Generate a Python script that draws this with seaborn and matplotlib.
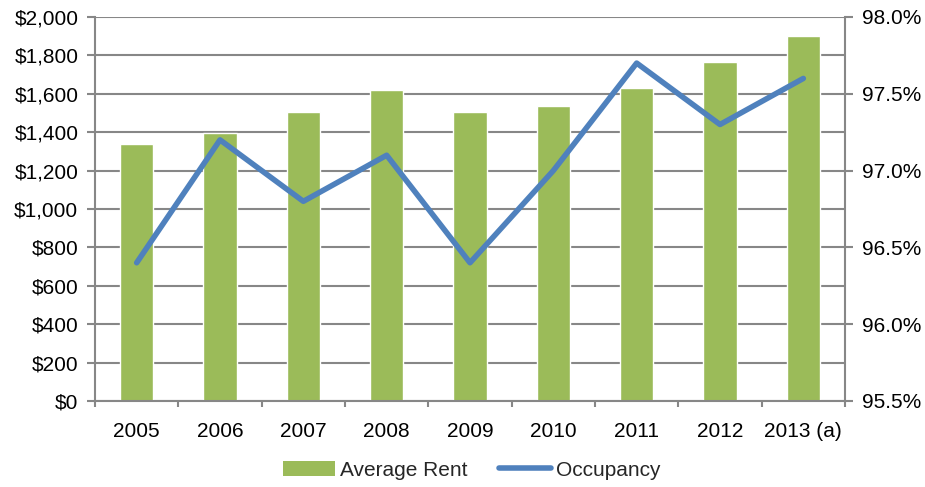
import matplotlib
matplotlib.use("Agg")
import matplotlib.pyplot as plt
import seaborn as sns
import pandas as pd
from matplotlib.ticker import FuncFormatter, MultipleLocator
from matplotlib.lines import Line2D
from matplotlib.patches import Patch

years = ["2005", "2006", "2007", "2008", "2009", "2010", "2011", "2012", "2013 (a)"]
average_rent = [1340, 1395, 1505, 1620, 1505, 1535, 1630, 1765, 1900]
occupancy = [96.4, 97.2, 96.8, 97.1, 96.4, 97.0, 97.7, 97.3, 97.6]

sns.set_theme(style="white")
plt.rcParams['font.family'] = ['Liberation Sans', 'DejaVu Sans']

df = pd.DataFrame({"year": years, "rent": average_rent, "occ": occupancy})

fig = plt.figure(figsize=(9.25, 4.87), dpi=100)
ax = fig.add_axes([95/925, 86/487, 750/925, 384/487])
grid_c = "#878787"
fs = 15

sns.barplot(data=df, x="year", y="rent", color="#9BBB59", saturation=1,
            width=0.4, ax=ax, zorder=2)
ax.set_ylim(0, 2000)
ax.set_xlim(-0.5, len(years) - 0.5)
ax.yaxis.set_major_locator(MultipleLocator(200))
ax.yaxis.set_major_formatter(FuncFormatter(lambda v, p: f"${v:,.0f}"))
ax.grid(axis="y", color=grid_c, linewidth=1.5, zorder=0)
ax.set_axisbelow(True)
ax.set_xlabel("")
ax.set_ylabel("")

ax2 = ax.twinx()
sns.lineplot(x=list(range(len(years))), y=occupancy, ax=ax2, color="#4F81BD",
             linewidth=4, solid_capstyle="round", zorder=3)
ax2.set_ylim(95.5, 98.0)
ax2.yaxis.set_major_locator(MultipleLocator(0.5))
ax2.yaxis.set_major_formatter(FuncFormatter(lambda v, p: f"{v:.1f}%"))
ax2.set_xlim(-0.5, len(years) - 0.5)

for a in (ax, ax2):
    for s in a.spines.values():
        s.set_visible(False)
ax.spines["left"].set_visible(True)
ax.spines["left"].set_color(grid_c)
ax.spines["left"].set_linewidth(1.5)
ax.spines["bottom"].set_visible(True)
ax.spines["bottom"].set_color(grid_c)
ax.spines["bottom"].set_linewidth(1.5)
ax2.spines["right"].set_visible(True)
ax2.spines["right"].set_color(grid_c)
ax2.spines["right"].set_linewidth(1.5)

ax.tick_params(axis="y", left=True, length=6, width=1.5, color=grid_c,
               labelsize=fs, pad=6, labelcolor="black")
ax2.tick_params(axis="y", right=True, length=5.5, width=1.5, color=grid_c,
                labelsize=fs, pad=7, labelcolor="black")
ax.set_xticks(range(len(years)))
ax.set_xticklabels(years)
ax.tick_params(axis="x", bottom=False, labelsize=fs, pad=9, labelcolor="black")
ax.set_xticks([i - 0.5 for i in range(len(years) + 1)], minor=True)
ax.tick_params(axis="x", which="minor", bottom=True, length=4, width=1.5, color=grid_c)

handles = [Patch(facecolor="#9BBB59", edgecolor="none"),
           Line2D([0], [0], color="#4F81BD", linewidth=4, solid_capstyle="round")]
fig.legend(handles, ["Average Rent", "Occupancy"], loc="center",
           bbox_to_anchor=(472/925, 1 - 470/487), bbox_transform=fig.transFigure,
           ncol=2, frameon=False, fontsize=fs, handlelength=2.5, handleheight=0.7,
           columnspacing=1.5, handletextpad=0.25)

fig.savefig("out.png", dpi=100)
